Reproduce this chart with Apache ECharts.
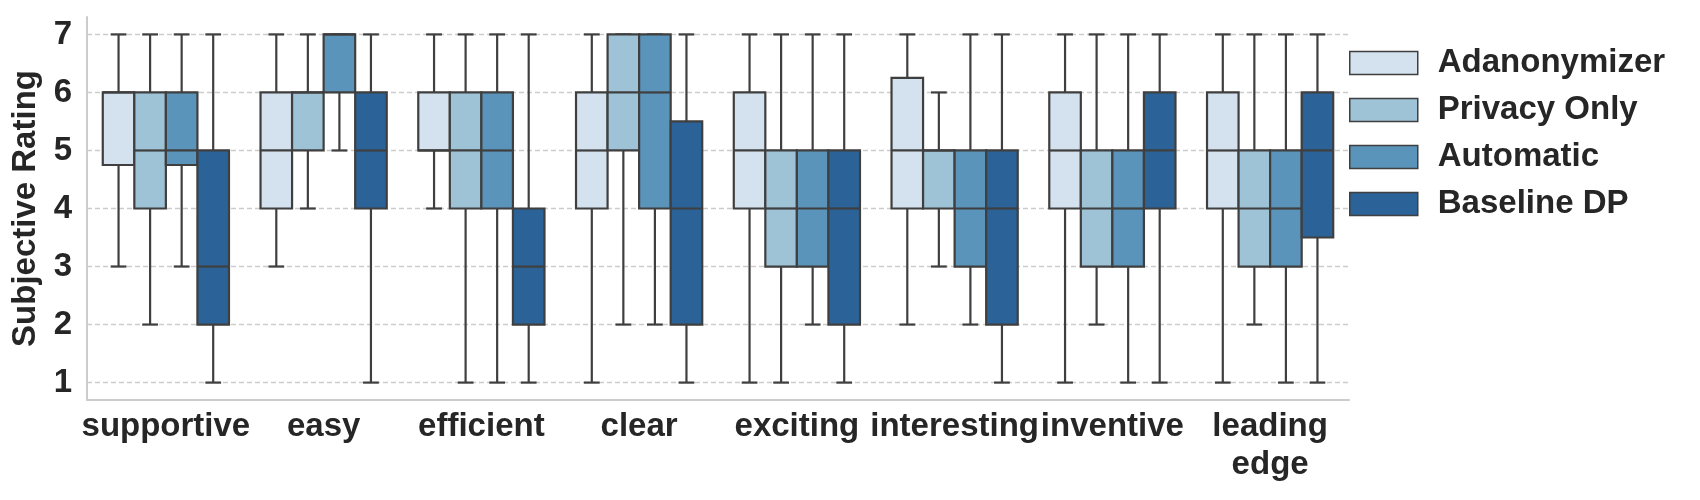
<!DOCTYPE html>
<html>
<head>
<meta charset="utf-8">
<script src="https://cdn.jsdelivr.net/npm/echarts@6/dist/echarts.min.js"></script>
<style>html,body{margin:0;padding:0;background:#fff}#c{width:1700px;height:500px}</style>
</head>
<body>
<div id="c"></div>
<script>
// Categories and tick labels
const categories = ['supportive', 'easy', 'efficient', 'clear', 'exciting', 'interesting', 'inventive', 'leading edge'];
const yTicks = [1, 2, 3, 4, 5, 6, 7];
const seriesNames = ['Adanonymizer', 'Privacy Only', 'Automatic', 'Baseline DP'];
// Each row: [lower whisker, Q1, median, Q3, upper whisker]
const adanonymizer = [
  [3, 4.75, 6, 6, 7],
  [3, 4, 5, 6, 7],
  [4, 5, 5, 6, 7],
  [1, 4, 5, 6, 7],
  [1, 4, 5, 6, 7],
  [2, 4, 5, 6.25, 7],
  [1, 4, 5, 6, 7],
  [1, 4, 5, 6, 7]
];
const privacyOnly = [
  [2, 4, 5, 6, 7],
  [4, 5, 6, 6, 7],
  [1, 4, 5, 6, 7],
  [2, 5, 6, 7, 7],
  [1, 3, 4, 5, 7],
  [3, 4, 5, 5, 6],
  [2, 3, 4, 5, 7],
  [2, 3, 4, 5, 7]
];
const automatic = [
  [3, 4.75, 5, 6, 7],
  [5, 6, 7, 7, 7],
  [1, 4, 5, 6, 7],
  [2, 4, 6, 7, 7],
  [2, 3, 4, 5, 7],
  [2, 3, 4, 5, 7],
  [1, 3, 4, 5, 7],
  [1, 3, 4, 5, 7]
];
const baselineDP = [
  [1, 2, 3, 5, 7],
  [1, 4, 5, 6, 7],
  [1, 2, 3, 4, 7],
  [1, 2, 4, 5.5, 7],
  [1, 2, 4, 5, 7],
  [1, 2, 4, 5, 7],
  [1, 4, 5, 6, 7],
  [1, 3.5, 5, 6, 7]
];
const seriesValues = [adanonymizer, privacyOnly, automatic, baselineDP];
const colors = ['#d4e2ef', '#9ec3d7', '#5b94bb', '#2b6399'];
const edge = '#3f3f3f';
const textColor = '#262626';
const FONT = '"Liberation Sans", Arial, sans-serif';

function makeRender(s) {
  return function (params, api) {
    const ci = api.value(0);
    const lo = api.value(1), q1 = api.value(2), med = api.value(3), q3 = api.value(4), hi = api.value(5);
    const band = api.size([1, 0])[0];
    const bw = band * 0.8 / 4;
    const cx = api.coord([ci, med])[0];
    const x0 = cx - band * 0.4 + s * bw;
    const xm = x0 + bw / 2;
    const y = v => api.coord([ci, v])[1];
    const st = { stroke: edge, lineWidth: 2.2, fill: null };
    return {
      type: 'group',
      children: [
        { type: 'line', shape: { x1: xm, y1: y(q3), x2: xm, y2: y(hi) }, style: st },
        { type: 'line', shape: { x1: xm, y1: y(q1), x2: xm, y2: y(lo) }, style: st },
        { type: 'line', shape: { x1: xm - bw / 4, y1: y(hi), x2: xm + bw / 4, y2: y(hi) }, style: st },
        { type: 'line', shape: { x1: xm - bw / 4, y1: y(lo), x2: xm + bw / 4, y2: y(lo) }, style: st },
        { type: 'rect', shape: { x: x0, y: y(q3), width: bw, height: y(q1) - y(q3) },
          style: { fill: colors[s], stroke: edge, lineWidth: 2.2 } },
        { type: 'line', shape: { x1: x0, y1: y(med), x2: x0 + bw, y2: y(med) }, style: st }
      ]
    };
  };
}

const series = seriesNames.map((name, s) => ({
  name: name,
  type: 'custom',
  renderItem: makeRender(s),
  itemStyle: { color: colors[s], borderColor: edge, borderWidth: 1.5 },
  encode: { x: 0, y: [1, 2, 3, 4, 5] },
  data: seriesValues[s].map((r, i) => [i].concat(r)),
  z: 3
}));

const chart = echarts.init(document.getElementById('c'), null, { renderer: 'canvas' });
chart.setOption({
  animation: false,
  backgroundColor: '#ffffff',
  grid: { left: 87, right: 351, top: 17, bottom: 100, containLabel: false },
  legend: {
    orient: 'vertical',
    left: 1349,
    top: 43,
    padding: 0,
    icon: 'rect',
    itemWidth: 68,
    itemHeight: 23,
    itemGap: 7,
    itemStyle: { borderColor: edge, borderWidth: 1.5 },
    textStyle: { fontFamily: FONT, fontWeight: 'bold', fontSize: 33, color: textColor, lineHeight: 40, padding: [0, 0, 0, 15] },
    data: seriesNames
  },
  xAxis: {
    type: 'category',
    data: categories,
    boundaryGap: true,
    axisLine: { show: true, lineStyle: { color: '#cccccc', width: 2 } },
    axisTick: { show: false },
    splitLine: { show: false },
    axisLabel: {
      interval: 0,
      margin: 8,
      fontFamily: FONT, fontWeight: 'bold', fontSize: 33, color: textColor, lineHeight: 38,
      formatter: v => v.replace(' ', '\n')
    }
  },
  yAxis: {
    type: 'value',
    min: 0.7,
    max: 7.3,
    name: 'Subjective Rating',
    nameLocation: 'middle',
    nameGap: 40,
    nameTextStyle: { fontFamily: FONT, fontWeight: 'bold', fontSize: 33, color: textColor },
    axisLine: { show: true, lineStyle: { color: '#cccccc', width: 2 } },
    axisTick: { show: false, customValues: yTicks },
    axisLabel: { customValues: yTicks, margin: 15, fontFamily: FONT, fontWeight: 'bold', fontSize: 33, color: textColor },
    splitLine: { show: true, customValues: yTicks, lineStyle: { color: '#cccccc', width: 1.3, type: [5, 3] } }
  },
  series: series
});
</script>
</body>
</html>
